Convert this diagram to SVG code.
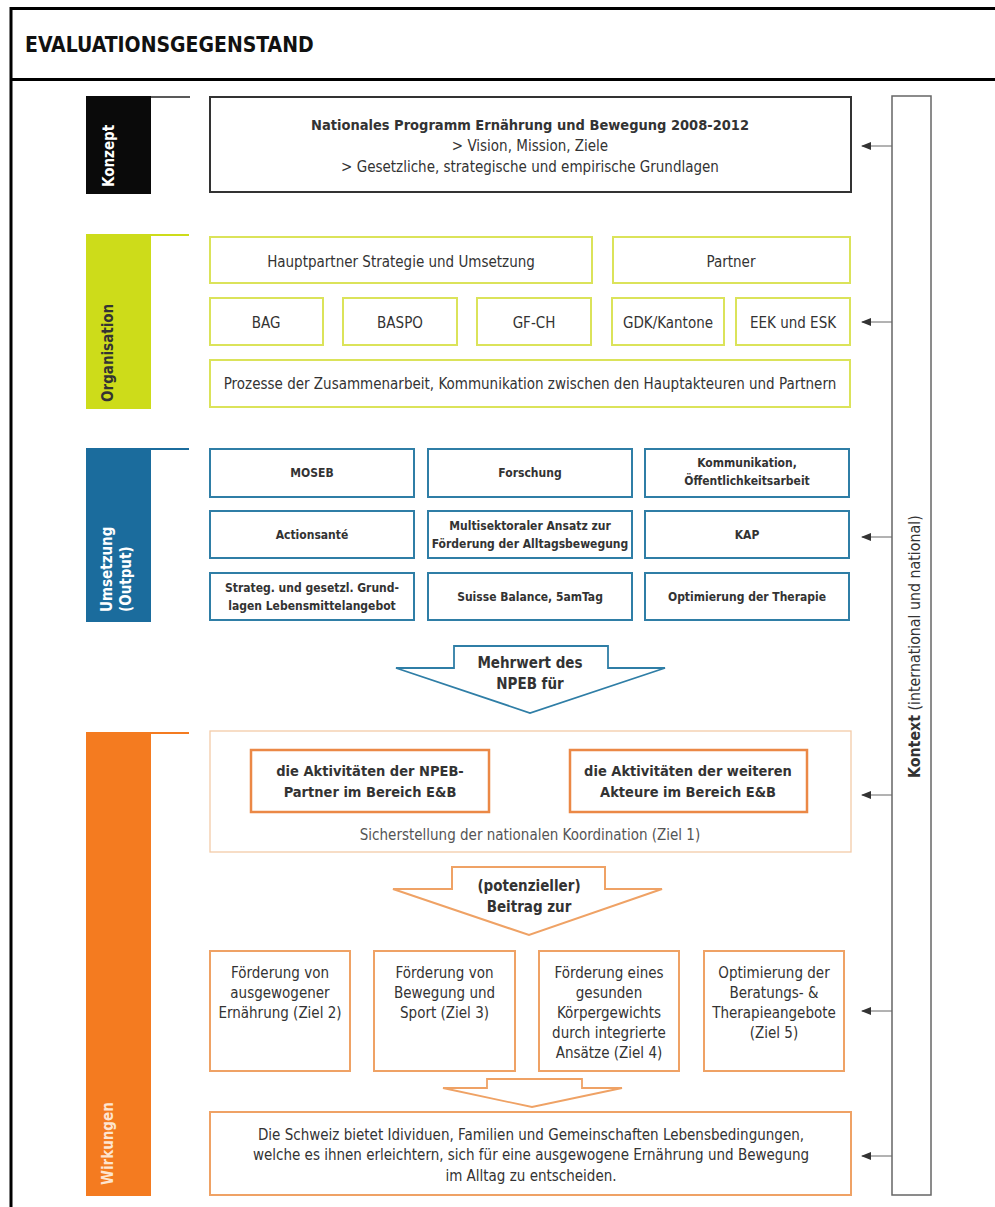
<svg xmlns="http://www.w3.org/2000/svg" width="995" height="1207" viewBox="0 0 995 1207">
<defs>
<style>
text{font-family:"DejaVu Sans Condensed","DejaVu Sans","Liberation Sans",sans-serif;font-stretch:condensed;fill:#333}
.t{text-anchor:middle;font-size:15px}
.b{font-weight:bold}
.s12{font-size:12px}
.side{font-weight:bold;font-size:15px;fill:#fff}
.lime{fill:none;stroke:#dbe35a;stroke-width:2}
.blue{fill:none;stroke:#2f7ea6;stroke-width:2}
.org{fill:none;stroke:#efa265;stroke-width:2}
.orgb{fill:none;stroke:#eb8846;stroke-width:2.5}
.ctx{stroke:#666;stroke-width:1}
</style>
<marker id="ah" viewBox="0 0 10 8" refX="9" refY="4" markerWidth="10" markerHeight="8" markerUnits="userSpaceOnUse" orient="auto">
<path d="M10,4 L0,0 L0,8 Z" fill="#333"/>
</marker>
</defs>
<rect width="995" height="1207" fill="#fff"/>

<g id="frame" fill="none" stroke="#000" stroke-width="3">
<line x1="11" y1="8.5" x2="995" y2="8.5"/>
<line x1="11" y1="79.5" x2="995" y2="79.5"/>
<line x1="11" y1="7" x2="11" y2="1207"/>
</g>
<text x="25" y="52" class="b" style="font-size:21px;fill:#111">EVALUATIONSGEGENSTAND</text>

<g id="side-konzept">
<rect x="86" y="96" width="65" height="98" fill="#0a0a0a"/>
<line x1="151" y1="97" x2="190" y2="97" stroke="#222" stroke-width="1.5"/>
<text class="side" transform="translate(114,187) rotate(-90)">Konzept</text>
</g>
<g id="side-organisation">
<rect x="86" y="234" width="65" height="175" fill="#cddc1a"/>
<line x1="151" y1="235" x2="189" y2="235" stroke="#cddc1a" stroke-width="2"/>
<text class="side" style="fill:#333" transform="translate(113,402) rotate(-90)">Organisation</text>
</g>
<g id="side-umsetzung">
<rect x="86" y="448" width="65" height="174" fill="#1b6c9d"/>
<line x1="151" y1="449" x2="189" y2="449" stroke="#1b6c9d" stroke-width="2"/>
<text class="side" transform="translate(112,612) rotate(-90)">Umsetzung</text>
<text class="side" transform="translate(131,612) rotate(-90)">(Output)</text>
</g>
<g id="side-wirkungen">
<rect x="86" y="732" width="65" height="464" fill="#f47b20"/>
<line x1="151" y1="733" x2="189" y2="733" stroke="#f47b20" stroke-width="2"/>
<text class="side" style="fill:#fde5d0" transform="translate(113,1185) rotate(-90)">Wirkungen</text>
</g>

<g id="konzept">
<rect x="210" y="97" width="641" height="95" fill="none" stroke="#333" stroke-width="2"/>
<text x="530" y="130" class="t b" style="font-size:14.5px">Nationales Programm Ernährung und Bewegung 2008-2012</text>
<text x="530" y="151" class="t">&gt; Vision, Mission, Ziele</text>
<text x="530" y="172" class="t">&gt; Gesetzliche, strategische und empirische Grundlagen</text>
</g>

<g id="org-hauptpartner"><rect x="210" y="237" width="382" height="46" class="lime"/><text x="401" y="267" class="t">Hauptpartner Strategie und Umsetzung</text></g>
<g id="org-partner"><rect x="613" y="237" width="237" height="46" class="lime"/><text x="731" y="267" class="t">Partner</text></g>
<g id="org-bag"><rect x="210" y="298" width="113" height="47" class="lime"/><text x="266" y="328" class="t">BAG</text></g>
<g id="org-baspo"><rect x="343" y="298" width="114" height="47" class="lime"/><text x="400" y="328" class="t">BASPO</text></g>
<g id="org-gfch"><rect x="477" y="298" width="114" height="47" class="lime"/><text x="534" y="328" class="t">GF-CH</text></g>
<g id="org-gdk"><rect x="612" y="298" width="112" height="47" class="lime"/><text x="668" y="328" class="t">GDK/Kantone</text></g>
<g id="org-eek"><rect x="736" y="298" width="114" height="47" class="lime"/><text x="793" y="328" class="t">EEK und ESK</text></g>
<g id="org-prozesse"><rect x="210" y="360" width="640" height="47" class="lime"/><text x="530" y="389" class="t">Prozesse der Zusammenarbeit, Kommunikation zwischen den Hauptakteuren und Partnern</text></g>

<g id="u-moseb"><rect x="210" y="449" width="204" height="48" class="blue"/><text x="312" y="477" class="t b s12">MOSEB</text></g>
<g id="u-forschung"><rect x="428" y="449" width="204" height="48" class="blue"/><text x="530" y="477" class="t b s12">Forschung</text></g>
<g id="u-komm"><rect x="645" y="449" width="204" height="48" class="blue"/><text x="747" y="467" class="t b s12">Kommunikation,</text><text x="747" y="485" class="t b s12">Öffentlichkeitsarbeit</text></g>
<g id="u-action"><rect x="210" y="511" width="204" height="47" class="blue"/><text x="312" y="539" class="t b s12">Actionsanté</text></g>
<g id="u-multi"><rect x="428" y="511" width="204" height="47" class="blue"/><text x="530" y="530" class="t b s12">Multisektoraler Ansatz zur</text><text x="530" y="548" class="t b s12">Förderung der Alltagsbewegung</text></g>
<g id="u-kap"><rect x="645" y="511" width="204" height="47" class="blue"/><text x="747" y="539" class="t b s12">KAP</text></g>
<g id="u-strateg"><rect x="210" y="573" width="204" height="47" class="blue"/><text x="312" y="592" class="t b s12">Strateg. und gesetzl. Grund-</text><text x="312" y="610" class="t b s12">lagen Lebensmittelangebot</text></g>
<g id="u-suisse"><rect x="428" y="573" width="204" height="47" class="blue"/><text x="530" y="601" class="t b s12">Suisse Balance, 5amTag</text></g>
<g id="u-therapie"><rect x="645" y="573" width="204" height="47" class="blue"/><text x="747" y="601" class="t b s12">Optimierung der Therapie</text></g>

<g id="arrow-mehrwert">
<polygon points="454,646 608,646 608,668 665,668 530,713 396,668 454,668" fill="#fff" stroke="#2f7ea6" stroke-width="1.8" stroke-linejoin="miter"/>
<text x="530" y="668" class="t b">Mehrwert des</text>
<text x="530" y="689" class="t b">NPEB für</text>
</g>

<g id="wirk-container">
<rect x="210" y="731" width="641" height="121" fill="none" stroke="#f3cba8" stroke-width="1.3"/>
<text x="530" y="840" class="t" style="fill:#555">Sicherstellung der nationalen Koordination (Ziel 1)</text>
</g>
<g id="wirk-npeb"><rect x="251" y="750" width="238" height="62" class="orgb"/><text x="370" y="776" class="t b" style="font-size:14.5px">die Aktivitäten der NPEB-</text><text x="370" y="797" class="t b" style="font-size:14.5px">Partner im Bereich E&amp;B</text></g>
<g id="wirk-weitere"><rect x="570" y="750" width="237" height="62" class="orgb"/><text x="688" y="776" class="t b" style="font-size:14.5px">die Aktivitäten der weiteren</text><text x="688" y="797" class="t b" style="font-size:14.5px">Akteure im Bereich E&amp;B</text></g>

<g id="arrow-beitrag">
<polygon points="452,867 605,867 605,889 662,889 529,935 393,889 452,889" fill="#fff" stroke="#efa265" stroke-width="2"/>
<text x="529" y="891" class="t b">(potenzieller)</text>
<text x="529" y="912" class="t b">Beitrag zur</text>
</g>

<g id="ziel2"><rect x="210" y="951" width="140" height="120" class="org"/><text x="280" y="978" class="t">Förderung von</text><text x="280" y="998" class="t">ausgewogener</text><text x="280" y="1018" class="t">Ernährung (Ziel 2)</text></g>
<g id="ziel3"><rect x="374" y="951" width="141" height="120" class="org"/><text x="444.5" y="978" class="t">Förderung von</text><text x="444.5" y="998" class="t">Bewegung und</text><text x="444.5" y="1018" class="t">Sport (Ziel 3)</text></g>
<g id="ziel4"><rect x="539" y="951" width="140" height="120" class="org"/><text x="609" y="978" class="t">Förderung eines</text><text x="609" y="998" class="t">gesunden</text><text x="609" y="1018" class="t">Körpergewichts</text><text x="609" y="1038" class="t">durch integrierte</text><text x="609" y="1058" class="t">Ansätze (Ziel 4)</text></g>
<g id="ziel5"><rect x="704" y="951" width="140" height="120" class="org"/><text x="774" y="978" class="t">Optimierung der</text><text x="774" y="998" class="t">Beratungs- &amp;</text><text x="774" y="1018" class="t">Therapieangebote</text><text x="774" y="1038" class="t">(Ziel 5)</text></g>

<g id="arrow-small">
<polygon points="487,1079 582,1079 582,1088 622,1088 532,1107 443,1088 487,1088" fill="#fff" stroke="#efa265" stroke-width="1.8"/>
</g>

<g id="schweiz">
<rect x="210" y="1112" width="641" height="83" class="org"/>
<text x="531" y="1140" class="t">Die Schweiz bietet Idividuen, Familien und Gemeinschaften Lebensbedingungen,</text>
<text x="531" y="1160" class="t">welche es ihnen erleichtern, sich für eine ausgewogene Ernährung und Bewegung</text>
<text x="531" y="1181" class="t">im Alltag zu entscheiden.</text>
</g>

<g id="kontext">
<rect x="892" y="96" width="39" height="1099" fill="none" stroke="#666" stroke-width="1.5"/>
<text transform="translate(920,778) rotate(-90)" style="font-size:15.8px"><tspan class="b">Kontext</tspan> (international und national)</text>
</g>

<g id="connectors">
<line x1="892" y1="146" x2="862" y2="146" class="ctx" marker-end="url(#ah)"/>
<line x1="892" y1="322" x2="862" y2="322" class="ctx" marker-end="url(#ah)"/>
<line x1="892" y1="537" x2="862" y2="537" class="ctx" marker-end="url(#ah)"/>
<line x1="892" y1="795" x2="862" y2="795" class="ctx" marker-end="url(#ah)"/>
<line x1="892" y1="1011" x2="862" y2="1011" class="ctx" marker-end="url(#ah)"/>
<line x1="892" y1="1156" x2="862" y2="1156" class="ctx" marker-end="url(#ah)"/>
</g>
</svg>
